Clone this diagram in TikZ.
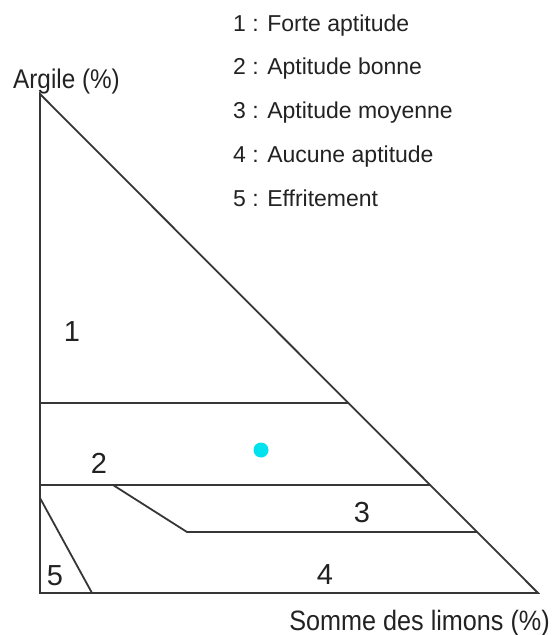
\documentclass[tikz,border=0pt]{standalone}
\usepackage{fontspec}
\setmainfont{Liberation Sans}
\newfontfamily\axisfont[FakeStretch=0.9]{Liberation Sans}
\usetikzlibrary{calc}
\definecolor{ptInk}{HTML}{363636}
\definecolor{ptText}{HTML}{222222}
\definecolor{ptDot}{HTML}{00E2EE}
\tikzset{
  limit/.style   ={ptInk,line width=1.8pt,line join=miter},
  zonelbl/.style ={font=\fontsize{29}{32}\selectfont,text=ptText,inner sep=0pt},
  keylbl/.style  ={font=\fontsize{23}{26}\selectfont,text=ptText,inner sep=0pt,anchor=base west},
  axlbl/.style   ={font=\axisfont\fontsize{28}{32}\selectfont,text=ptText,inner sep=0pt},
  sample/.style  ={circle,fill=ptDot,minimum size=15pt,inner sep=0pt},
}
\begin{document}
\begin{tikzpicture}[x=1pt,y=-1pt]
\useasboundingbox (0,0) rectangle (552,635);
% triangle
\coordinate (top) at (40,94);
\coordinate (org) at (40,593);
\coordinate (rgt) at (538,593);
\draw[limit] (top) -- (org) -- (rgt) -- cycle;

% class limits
\foreach \n/\y in {1/403,2/485,3/532}
  \coordinate (r\n) at ($(top)!{(\y-94)/499}!(rgt)$);
\coordinate (l1) at (40,403);
\coordinate (l2) at (40,485);
\coordinate (s3) at (113,485);
\coordinate (k3) at (187,532);
\coordinate (l5) at (40,498);
\coordinate (b5) at (92,593);
\draw[limit] (l1) -- (r1);
\draw[limit] (l2) -- (r2);
\draw[limit] (s3) -- (k3) -- (r3);
\draw[limit] (l5) -- (b5);

\foreach \t/\x/\y in {1/72/332, 2/99/463, 3/362/513, 4/325/575, 5/55/576}
  \node[zonelbl] (z\t) at (\x,\y) {\t};

\node[sample] (pt) at (261,450) {};

% legend
\foreach \k/\txt [count=\i] in {1/Forte aptitude, 2/Aptitude bonne, 3/Aptitude moyenne,
                               4/Aucune aptitude, 5/Effritement}
  \node[keylbl] (key\k) at (233,{31+43.8*(\i-1)}) {\k\ : \txt};

\node[axlbl,anchor=base west,font=\axisfont\fontsize{27}{30}\selectfont] (ylab) at (13,88) {Argile (\%)};
\node[axlbl,anchor=base east] (xlab) at (550,630) {Somme des limons (\%)};
\end{tikzpicture}
\end{document}
